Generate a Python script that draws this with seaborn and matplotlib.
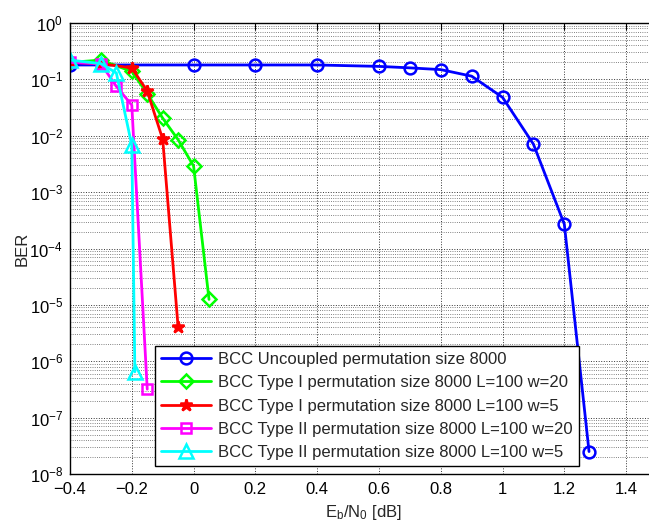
import numpy as np
import pandas as pd
import matplotlib
matplotlib.use('Agg')
import matplotlib.pyplot as plt
import seaborn as sns
from matplotlib.ticker import LogLocator, NullFormatter, FixedLocator

# --- data ---
x_uncoupled = [-0.4, 0.0, 0.2, 0.4, 0.6, 0.7, 0.8, 0.9, 1.0, 1.1, 1.2, 1.28]
ber_uncoupled = [0.18, 0.18, 0.18, 0.18, 0.17, 0.16, 0.149, 0.114, 0.048, 0.0071, 2.7e-4, 2.5e-8]

x_type1_w20 = [-0.4, -0.3, -0.2, -0.15, -0.1, -0.05, 0.0, 0.05]
ber_type1_w20 = [0.2, 0.22, 0.138, 0.056, 0.0205, 0.0085, 0.0029, 1.25e-5]

x_type1_w5 = [-0.4, -0.3, -0.2, -0.15, -0.1, -0.05]
ber_type1_w5 = [0.2, 0.19, 0.16, 0.062, 0.0087, 4.0e-6]

x_type2_w20 = [-0.4, -0.3, -0.25, -0.2, -0.15]
ber_type2_w20 = [0.2, 0.19, 0.075, 0.035, 3.2e-7]

x_type2_w5 = [-0.4, -0.3, -0.25, -0.2, -0.19]
ber_type2_w5 = [0.22, 0.19, 0.13, 0.0068, 6.5e-7]

labels = [
    'BCC Uncoupled permutation size 8000',
    'BCC Type I permutation size 8000 L=100 w=20',
    'BCC Type I permutation size 8000 L=100 w=5',
    'BCC Type II permutation size 8000 L=100 w=20',
    'BCC Type II permutation size 8000 L=100 w=5',
]
xs = [x_uncoupled, x_type1_w20, x_type1_w5, x_type2_w20, x_type2_w5]
ys = [ber_uncoupled, ber_type1_w20, ber_type1_w5, ber_type2_w20, ber_type2_w5]

x_ticks = [-0.4, -0.2, 0.0, 0.2, 0.4, 0.6, 0.8, 1.0, 1.2, 1.4]
x_tick_labels = ['\u22120.4', '\u22120.2', '0', '0.2', '0.4', '0.6', '0.8', '1', '1.2', '1.4']

# --- styling ---
colors = ['#0000ff', '#00ff00', '#ff0000', '#ff00ff', '#00ffff']
markers = ['o', 'D', '*', 's', '^']
msizes = [8.5, 7, 9, 7, 9.5]

sns.set_style('white')
plt.rcParams['font.family'] = ['Liberation Sans', 'DejaVu Sans']
plt.rcParams['mathtext.fontset'] = 'custom'
plt.rcParams['mathtext.rm'] = 'Liberation Sans'
plt.rcParams['mathtext.it'] = 'Liberation Sans:italic'

fig = plt.figure(figsize=(6.49, 5.22), dpi=100)
# axes extends slightly beyond the right edge, like the cropped original
ax = fig.add_axes([70 / 649, 48 / 522, 587 / 649, 451 / 522])

for x, y, lab, c, m, ms in zip(xs, ys, labels, colors, markers, msizes):
    df = pd.DataFrame({'x': x, 'y': y})
    face = c if m == '*' else 'none'
    sns.lineplot(data=df, x='x', y='y', ax=ax, color=c, lw=2, marker=m,
                 markersize=ms, markerfacecolor=face, markeredgecolor=c,
                 markeredgewidth=1.8, sort=False, estimator=None, label=lab)

ax.set_yscale('log')
ax.set_ylim(1e-8, 1)
ax.set_xlim(-0.4, 1.5)
ax.xaxis.set_major_locator(FixedLocator(x_ticks))
ax.set_xticklabels(x_tick_labels)
ax.yaxis.set_major_locator(LogLocator(base=10, numticks=20))
ax.yaxis.set_minor_locator(LogLocator(base=10, subs=np.arange(2, 10), numticks=100))
ax.yaxis.set_minor_formatter(NullFormatter())

ax.grid(True, which='major', ls=':', color='k', lw=0.7, alpha=0.8)
ax.grid(True, which='minor', axis='y', ls=':', color='k', lw=0.6, alpha=0.65)

ax.tick_params(which='both', direction='in', top=True, right=False, labelsize=12, colors='k')
ax.tick_params(which='major', length=5)
ax.tick_params(axis='x', which='major', pad=6)
ax.tick_params(axis='y', which='major', pad=5)
ax.tick_params(which='minor', length=3)
for s in ['left', 'bottom', 'top']:
    ax.spines[s].set_color('k')
    ax.spines[s].set_linewidth(1.0)
ax.spines['right'].set_visible(False)

ax.set_xlabel(r'E$_\mathrm{b}$/N$_\mathrm{0}$ [dB]', fontsize=12, labelpad=4)
ax.set_ylabel('BER', fontsize=12, labelpad=0)

leg = ax.legend(loc='lower left', bbox_to_anchor=(85 / 587, 8 / 451), fontsize=12,
                frameon=True, fancybox=False, framealpha=1, edgecolor='k',
                handlelength=3.0, handletextpad=0.45, borderpad=0.35,
                labelspacing=0.5, borderaxespad=0)
leg.get_frame().set_linewidth(1.0)

fig.savefig('out.png', dpi=100)
